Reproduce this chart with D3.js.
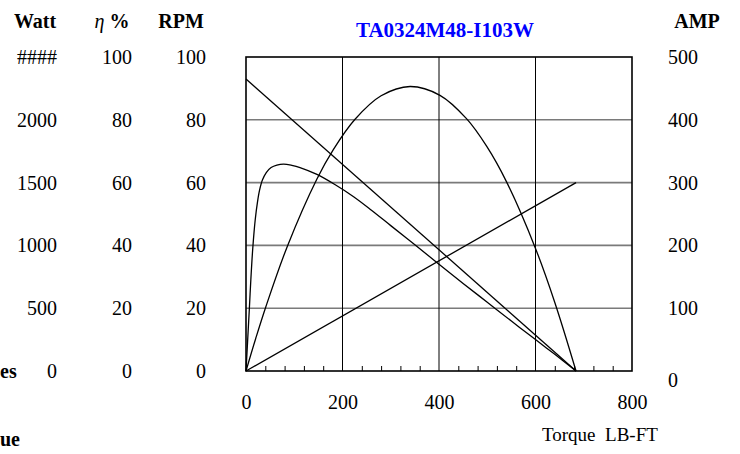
<!DOCTYPE html>
<html>
<head>
<meta charset="utf-8">
<script src="https://cdn.jsdelivr.net/npm/d3@7/dist/d3.min.js"></script>
<style>
  html, body { margin: 0; padding: 0; background: #fff; }
  svg { display: block; }
  text { font-family: "Liberation Serif", "Times New Roman", serif; fill: #000; }
</style>
</head>
<body>
<svg id="chart" width="740" height="454"></svg>
<script>
// ---- data ----
const title = "TA0324M48-I103W";
const xTicks = [0, 200, 400, 600, 800];
const wattTicks = [0, 500, 1000, 1500, 2000, 2500];
const wattLabels = ["0", "500", "1000", "1500", "2000", "####"];
const effTicks = [0, 20, 40, 60, 80, 100];
const rpmTicks = [0, 20, 40, 60, 80, 100];
const ampTicks = [0, 100, 200, 300, 400, 500];

// torque (LB-FT) vs speed (RPM axis)
const speedTorque = [0, 684];
const speedValues = [93, 0];
// torque vs current (AMP axis)
const ampTorque = [0, 684];
const ampValues = [0, 300];
// torque vs efficiency (%)
const effTorque = [0, 3.5, 7, 10, 14, 19, 24, 28, 34, 42, 52, 64, 78, 95, 112, 147, 185, 223, 260, 300, 350, 400, 450, 500, 550, 600, 640, 684];
const effValues = [0, 10, 20, 29, 39, 48, 54, 57.5, 60.8, 63.2, 64.8, 65.6, 65.9, 65.5, 64.8, 62.6, 59.3, 55.5, 51.2, 46.3, 40.2, 34.0, 27.9, 21.9, 15.9, 10, 5.3, 0];
// torque vs output power (Watt)
const powTorque = [0, 20, 41, 86, 147, 181, 226, 280, 340, 402, 457, 499, 540, 600, 640, 684];
const powValues = [0, 257, 510, 996, 1529, 1763, 2004, 2191, 2265, 2195, 2009, 1788, 1506, 976, 546, 0];

// ---- layout ----
const svg = d3.select("#chart");
const L = 246, R = 632, T = 57, B = 371;
const x = d3.scaleLinear().domain([0, 800]).range([L, R]);
const yEff = d3.scaleLinear().domain([0, 100]).range([B, T]);
const yWatt = d3.scaleLinear().domain([0, 2500]).range([B, T]);
const yRpm = d3.scaleLinear().domain([0, 100]).range([B, T]);
const yAmp = d3.scaleLinear().domain([0, 500]).range([B, T]);

// horizontal gridlines
svg.append("g").selectAll("line").data([20, 40, 60, 80]).join("line")
  .attr("x1", L).attr("x2", R)
  .attr("y1", d => yEff(d)).attr("y2", d => yEff(d))
  .attr("stroke", "#7a7a7a").attr("stroke-width", 1.6);
// vertical gridlines
svg.append("g").selectAll("line").data([200, 400, 600]).join("line")
  .attr("x1", d => x(d)).attr("x2", d => x(d))
  .attr("y1", T).attr("y2", B)
  .attr("stroke", "#000").attr("stroke-width", 1);

// minor ticks on bottom edge
const minor = d3.range(40, 800, 40).filter(v => v % 200 !== 0);
svg.append("g").attr("transform", `translate(0,${B})`)
  .call(d3.axisBottom(x).tickValues(minor).tickSizeInner(-5).tickSizeOuter(0).tickFormat(""))
  .call(g => g.select(".domain").remove())
  .call(g => g.selectAll("line").attr("stroke", "#000").attr("stroke-width", 1));

// curves
const lineOf = (xs, ys, yScale, curve) => d3.line()
  .x((d, i) => x(xs[i])).y((d, i) => yScale(ys[i])).curve(curve)(xs);

const curves = svg.append("g").attr("fill", "none").attr("stroke", "#000").attr("stroke-width", 1.3);
curves.append("path").attr("d", lineOf(speedTorque, speedValues, yRpm, d3.curveLinear));
curves.append("path").attr("d", lineOf(ampTorque, ampValues, yAmp, d3.curveLinear));
curves.append("path").attr("d", lineOf(effTorque, effValues, yEff, d3.curveCatmullRom.alpha(0.5)));
curves.append("path").attr("d", lineOf(powTorque, powValues, yWatt, d3.curveCatmullRom.alpha(0.5)));

// plot frame
svg.append("rect").attr("x", L).attr("y", T).attr("width", R - L).attr("height", B - T)
  .attr("fill", "none").attr("stroke", "#000").attr("stroke-width", 1.6);

// bottom axis labels
svg.append("g").attr("transform", `translate(0,${B})`)
  .call(d3.axisBottom(x).tickValues(xTicks).tickSize(0).tickPadding(24).tickFormat(d3.format("d")))
  .call(g => g.select(".domain").remove())
  .call(g => g.selectAll("text").attr("font-size", 20).attr("font-family", "Liberation Serif"));

// left axes
function leftAxis(xpos, scale, ticks, labels) {
  svg.append("g").attr("transform", `translate(${xpos},0)`)
    .call(d3.axisLeft(scale).tickValues(ticks).tickSize(0).tickPadding(0)
      .tickFormat((d, i) => labels ? labels[i] : String(d)))
    .call(g => g.select(".domain").remove())
    .call(g => g.selectAll("text").attr("font-size", 20).attr("font-family", "Liberation Serif"));
}
leftAxis(57, yWatt, wattTicks, wattLabels);
leftAxis(132, yEff, effTicks, null);
leftAxis(206, yRpm, rpmTicks, null);

// right AMP axis
svg.append("g").attr("transform", `translate(668,0)`)
  .call(d3.axisRight(yAmp).tickValues(ampTicks).tickSize(0).tickPadding(0))
  .call(g => g.select(".domain").remove())
  .call(g => g.selectAll("text").attr("font-size", 20).attr("font-family", "Liberation Serif"))
  .call(g => g.selectAll(".tick").filter(d => d === 0).select("text").attr("dy", "0.75em"));

// headers
const hdr = svg.append("g").attr("font-weight", "bold").attr("font-size", 20).attr("text-anchor", "middle");
hdr.append("text").attr("x", 35).attr("y", 28).text("Watt");
const eta = hdr.append("text").attr("x", 112).attr("y", 28);
eta.append("tspan").attr("font-style", "italic").attr("font-weight", "normal").text("η");
eta.append("tspan").text(" %");
hdr.append("text").attr("x", 181).attr("y", 28).text("RPM");
hdr.append("text").attr("x", 697).attr("y", 28).text("AMP");

// clipped row labels at left edge
svg.append("text").attr("x", 0).attr("y", 378).attr("font-weight", "bold").attr("font-size", 20).text("es");
svg.append("text").attr("x", 0).attr("y", 446).attr("font-weight", "bold").attr("font-size", 20).text("ue");

// title
svg.append("text").attr("x", 445).attr("y", 37).attr("text-anchor", "middle")
  .attr("font-weight", "bold").attr("font-size", 21).style("fill", "#0000ff").text(title);

// x axis title
svg.append("text").attr("x", 542).attr("y", 441).attr("font-size", 19)
  .attr("xml:space", "preserve").style("white-space", "pre").text("Torque  LB-FT");
</script>
</body>
</html>
